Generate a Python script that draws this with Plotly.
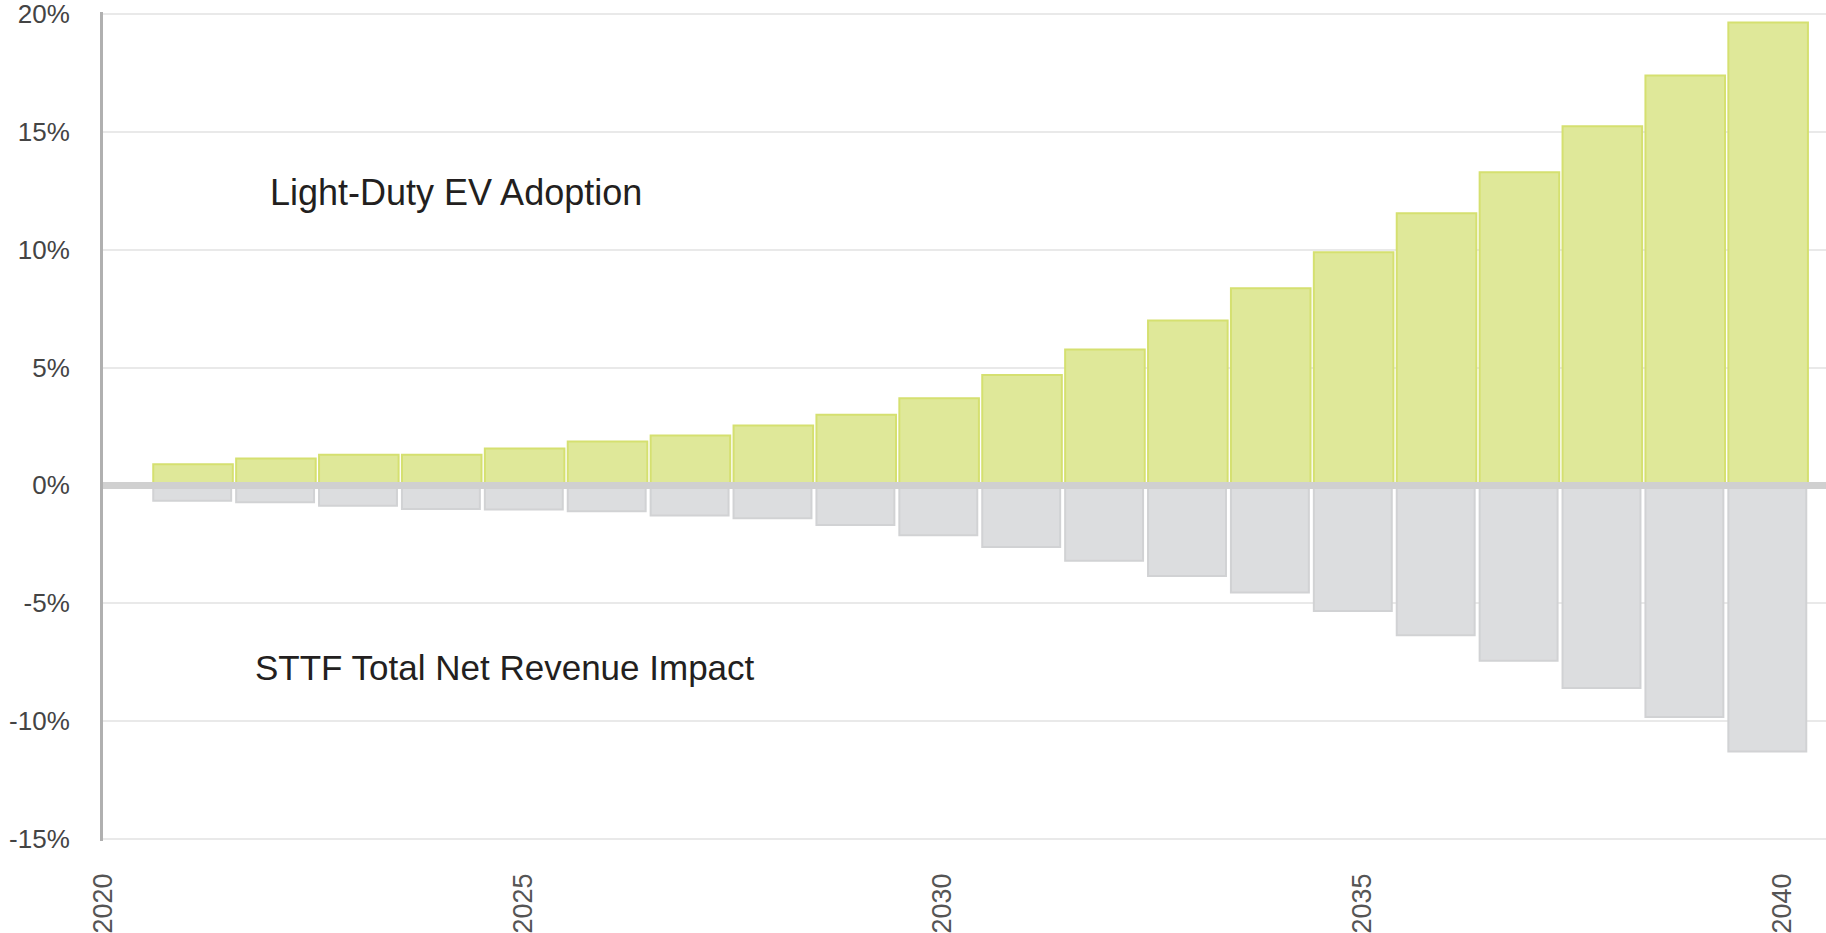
import plotly.graph_objects as go

years = list(range(2021, 2041))
ev_adoption = [0.9, 1.14, 1.3, 1.3, 1.57, 1.86, 2.12, 2.54, 3.0, 3.7,
               4.69, 5.77, 7.0, 8.37, 9.9, 11.55, 13.3, 15.25, 17.4, 19.65]
revenue_impact = [-0.65, -0.72, -0.86, -1.0, -1.02, -1.1, -1.28, -1.4, -1.68, -2.12,
                  -2.62, -3.2, -3.85, -4.55, -5.33, -6.36, -7.45, -8.6, -9.83, -11.3]
x_tick_years = [2020, 2025, 2030, 2035, 2040]
y_ticks = [-15, -10, -5, 0, 5, 10, 15, 20]
y_tick_text = [f"{v}%" for v in y_ticks]
label_ev = "Light-Duty EV Adoption"
label_rev = "STTF Total Net Revenue Impact"

W, H = 1826, 933
ML, MR, MT, MB = 103, 0, 12.1, 92.1

fig = go.Figure()
fig.add_trace(go.Bar(
    x=years, y=ev_adoption, width=0.96, offset=-0.48,
    marker=dict(color="#dfe899", line=dict(color="#d5e070", width=2)),
    name=label_ev, showlegend=False, hoverinfo="x+y",
))
fig.add_trace(go.Bar(
    x=years, y=revenue_impact, width=0.94, offset=-0.48,
    marker=dict(color="#dcdddf", line=dict(color="#d1d2d4", width=2)),
    name=label_rev, showlegend=False, hoverinfo="x+y",
))
# empty trace so the year tick axis (xaxis2) is registered and drawn
fig.add_trace(go.Scatter(x=[], y=[], xaxis="x2", yaxis="y", showlegend=False, hoverinfo="skip"))

font_family = "Liberation Sans, Arial, sans-serif"

fig.update_layout(
    width=W, height=H,
    margin=dict(l=ML, r=MR, t=MT, b=MB, pad=0, autoexpand=False),
    paper_bgcolor="white", plot_bgcolor="white",
    barmode="overlay",
    font=dict(family=font_family, color="#444444", size=26),
    xaxis=dict(
        range=[2019.914, 2040.698], automargin=False,
        showticklabels=False, showgrid=False, zeroline=False, showline=False,
        ticks="",
    ),
    xaxis2=dict(
        overlaying="x", side="bottom", anchor="y", automargin=False,
        range=[2020, 2040.52],
        tickmode="array", tickvals=x_tick_years, ticktext=[str(v) for v in x_tick_years],
        tickangle=-90, ticks="", ticklabelstandoff=26, ticklabeloverflow="allow",
        showgrid=False, zeroline=False, showline=False,
        tickfont=dict(family=font_family, size=27, color="#555555"),
    ),
    yaxis=dict(
        range=[-15.1, 20.1], automargin=False,
        tickmode="array", tickvals=y_ticks, ticktext=y_tick_text,
        showgrid=True, gridcolor="#e9e9e9", gridwidth=2,
        zeroline=False,
        showline=True, linecolor="#b0b0b0", linewidth=3,
        ticks="", ticklabelstandoff=25, ticklabeloverflow="allow",
        tickfont=dict(family=font_family, size=26, color="#444444"),
    ),
    shapes=[dict(
        type="line", xref="paper", yref="y", x0=0, x1=1, y0=0, y1=0,
        line=dict(color="#d0d0d0", width=7), layer="above",
    )],
    annotations=[
        dict(text=label_ev, xref="paper", yref="y", x=(268 - ML) / (W - ML - MR), y=12.45,
             xanchor="left", yanchor="middle", showarrow=False,
             font=dict(family=font_family, size=36, color="#231f20")),
        dict(text=label_rev, xref="paper", yref="y", x=(253 - ML) / (W - ML - MR), y=-7.75,
             xanchor="left", yanchor="middle", showarrow=False,
             font=dict(family=font_family, size=35, color="#231f20")),
    ],
)

fig.write_html(
    "out.html",
    config={"displayModeBar": False},
    post_script="document.body.style.margin='0';document.body.style.overflow='hidden';",
)
